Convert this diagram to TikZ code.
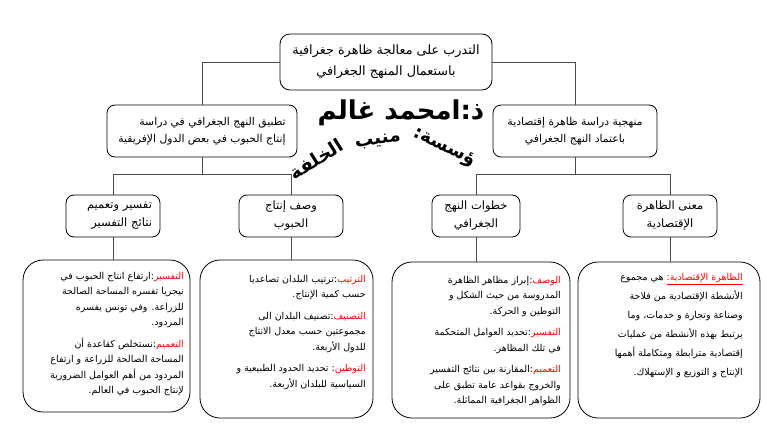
\documentclass[tikz,border=0pt]{standalone}
\usepackage{fontspec}
\TeXXeTstate=1
\newfontfamily\ar[Script=Arabic]{DejaVu Sans}
\newcommand\ArR[1]{\beginR #1\endR}
\newcommand\ArLab[1]{{\color{red}\beginR #1\endR}}
\begin{document}
\begin{tikzpicture}[x=1pt,y=-1pt,
  conn/.style={draw=black!70, line width=0.8pt},
  topbox/.style={draw, rounded corners=10pt, line width=0.8pt, align=center, inner sep=0pt,
    font=\ar\fontsize{12.8}{21}\selectfont},
  midbox/.style={draw, rounded corners=8pt, line width=0.8pt, inner sep=0pt,
    font=\ar\fontsize{10.8}{17.5}\selectfont},
  smallbox/.style={draw, rounded corners=8pt, line width=0.8pt, inner sep=0pt,
    font=\ar\fontsize{11.5}{18}\selectfont},
  bigbox/.style={draw, rounded corners=20pt, line width=0.8pt, inner sep=0pt},
  bodytext/.style={align=right, inner sep=0pt, anchor=north east,
    font=\ar\fontsize{9.5}{15.5}\selectfont},
  wmark/.style={inner sep=0pt, font=\ar\bfseries\fontsize{26}{28}\selectfont},
  wmarkb/.style={inner sep=0pt, font=\ar\bfseries\fontsize{18.5}{20}\selectfont}]
\useasboundingbox (0,0) rectangle (773,447);
\fill[white] (0,0) rectangle (773,447);

% top
\node[topbox, minimum width=212pt, minimum height=56pt] (top) at (386,62)
  {\ArR{التدرب على معالجة ظاهرة جغرافية}\\\ArR{باستعمال المنهج الجغرافي}};

% level 2
\node[midbox, align=right, minimum width=190pt, minimum height=52pt] (l2a) at (202,131)
  {\ArR{تطبيق النهج الجغرافي في دراسة}\\\ArR{إنتاج الحبوب في بعض الدول الإفريقية}};
\node[midbox, align=center, minimum width=164pt, minimum height=52pt] (l2b) at (575,131)
  {\ArR{منهجية دراسة ظاهرة إقتصادية}\\\ArR{باعتماد النهج الجغرافي}};

% level 3
\node[smallbox, align=right, text width=78pt, minimum width=94pt, minimum height=42pt] (l3a) at (113,216)
  {\ArR{تفسير وتعميم}\\\ArR{نتائج التفسير}};
\node[smallbox, align=center, minimum width=104pt, minimum height=42pt] (l3b) at (291,216)
  {\ArR{وصف إنتاج}\\\ArR{الحبوب}};
\node[smallbox, align=center, minimum width=88pt, minimum height=42pt] (l3c) at (476,216)
  {\ArR{خطوات النهج}\\\ArR{الجغرافي}};
\node[smallbox, align=center, minimum width=94pt, minimum height=42pt] (l3d) at (670,216)
  {\ArR{معنى الظاهرة}\\\ArR{الإقتصادية}};

% level 4 boxes
\node[bigbox, minimum width=167pt, minimum height=152pt] (l4a) at (106.5,336) {};
\node[bigbox, minimum width=173pt, minimum height=158pt] (l4b) at (286.5,339) {};
\node[bigbox, minimum width=178pt, minimum height=156pt] (l4c) at (481,340) {};
\node[bigbox, minimum width=182pt, minimum height=156pt] (l4d) at (669,340) {};

\node[bodytext] (t4a) at (184,272) {%
\ArR{ارتفاع انتاج الحبوب في}:\ArLab{التفسير}\\
\ArR{نيجريا تفسره المساحة الصالحة}\\
\ArR{للزراعة. وفي تونس يفسره}\\
\ArR{المردود.}\\[6pt]
\ArR{نستخلص كقاعدة أن}:\ArLab{التعميم}\\
\ArR{المساحة الصالحة للزراعة و ارتفاع}\\
\ArR{المردود من أهم العوامل الضرورية}\\
\ArR{لإنتاج الحبوب في العالم.}};

\node[bodytext] (t4b) at (366,275) {%
\ArR{ترتيب البلدان تصاعديا}:\ArLab{الترتيب}\\
\ArR{حسب كمية الإنتاج.}\\[6pt]
\ArR{تصنيف البلدان الى}:\ArLab{التصنيف}\\
\ArR{مجموعتين حسب معدل الانتاج}\\
\ArR{للدول الأربعة.}\\[6pt]
\ArR{تحديد الحدود الطبيعية و}\ :\ArLab{التوطين}\\
\ArR{السياسية للبلدان الأربعة.}};

\node[bodytext] (t4c) at (561,276) {%
\ArR{إبراز مظاهر الظاهرة}:\ArLab{الوصف}\\
\ArR{المدروسة من حيث الشكل و}\\
\ArR{التوطين و الحركة.}\\[6pt]
\ArR{تحديد العوامل المتحكمة}:\ArLab{التفسير}\\
\ArR{في تلك المظاهر.}\\[6pt]
\ArR{المقارنة بين نتائج التفسير}:\ArLab{التعميم}\\
\ArR{والخروج بقواعد عامة تطبق على}\\
\ArR{الظواهر الجغرافية المماثلة.}};

\node[bodytext, font=\ar\fontsize{9.5}{19}\selectfont] (t4d) at (743,273) {%
\ArR{هي مجموع}\ {\color{red}\underline{\hbox{\beginR الظاهرة الإقتصادية:\endR}}}\\
\ArR{الأنشطة الإقتصادية من فلاحة}\\
\ArR{وصناعة وتجارة و خدمات، وما}\\
\ArR{يرتبط بهذه الأنشطة من عمليات}\\
\ArR{إقتصادية مترابطة ومتكاملة أهمها}\\
\ArR{الإنتاج و التوزيع و الإستهلاك.}};

% connectors
\coordinate (ja) at (200,174);
\coordinate (jb) at (576,174);
\draw[conn] (top.west) -- (top.west -| l2a.north) -- (l2a.north);
\draw[conn] (top.east) -- (top.east -| l2b.north) -- (l2b.north);
\draw[conn] (l2a.south) -- (l2a.south |- ja);
\draw[conn] (l2b.south) -- (l2b.south |- jb);
\draw[conn] (l3a.north) -- (l3a.north |- ja) -- (l3b.north |- ja) -- (l3b.north);
\draw[conn] (l3c.north) -- (l3c.north |- jb) -- (l3d.north |- jb) -- (l3d.north);
\draw[conn] (l3a.south) -- (l3a.south |- l4a.north);
\draw[conn] (l3b.south) -- (l3b.south |- l4b.north);
\draw[conn] (l3c.south) -- (l3c.south |- l4c.north);
\draw[conn] (l3d.south) -- (l3d.south |- l4d.north);

% watermark
\node[wmark] (wm1) at (401,113) {\ArR{ذ:امحمد غالم}};
\node[wmarkb, rotate=32] (wm2) at (316,159) {\ArR{الخلفة}};
\node[wmarkb, rotate=8] (wm3) at (378,141) {\ArR{منيب}};
\node[wmarkb, rotate=-26] (wm4) at (444,148) {\ArR{ؤسسة:}};
\end{tikzpicture}
\end{document}
